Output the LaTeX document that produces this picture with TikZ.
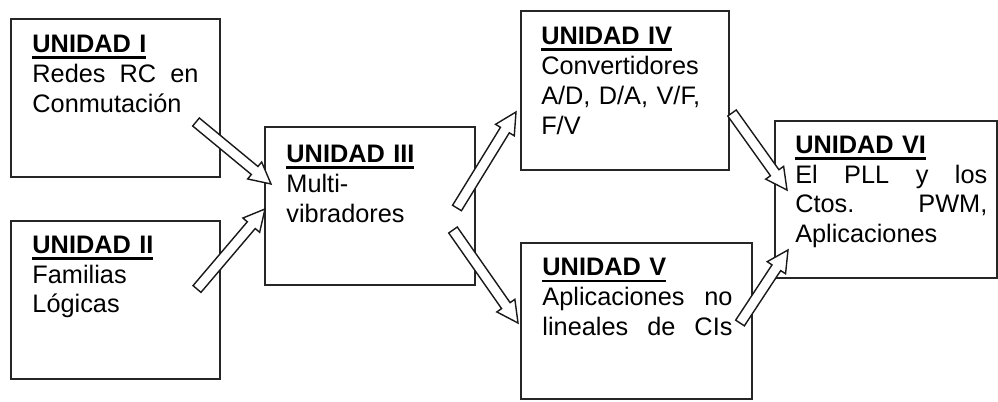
\documentclass[tikz,border=0pt]{standalone}
\usepackage{fontspec}
\setmainfont{Liberation Sans}
\usepackage{tikz}
\usetikzlibrary{positioning,calc}

\newsavebox{\titbox}
\newcommand{\unidad}[1]{\sbox{\titbox}{\textbf{#1}}\rlap{\rule[-4.6pt]{\wd\titbox}{1.9pt}}\usebox{\titbox}}
% justified line: words split by \hfill
\newcommand{\jl}[2]{\makebox[#1][l]{#2}}
% hollow block arrow: shaft, head width, head length
\newcommand{\asw}{0.13cm}
\newcommand{\ahw}{0.275cm}
\newcommand{\ahl}{0.53cm}
\newcommand{\flecha}[2]{%
  \coordinate (fh) at ($(#2)!\ahl!(#1)$);
  \draw[hollow] ($(#1)!\asw!90:(#2)$) -- ($(fh)!\asw!-90:(#1)$)
    -- ($(fh)!\ahw!-90:(#1)$) -- (#2) -- ($(fh)!\ahw!90:(#1)$)
    -- ($(fh)!\asw!90:(#1)$) -- ($(#1)!\asw!-90:(#2)$) -- cycle;}

\tikzset{
  unitbox/.style={draw=black!85, line width=1.1pt, inner sep=0pt, outer sep=0pt},
  unittext/.style={inner sep=0pt, align=left, font=\fontsize{18}{21.3}\selectfont},
  hollow/.style={draw=black!90, fill=white, line width=1pt, line join=miter}
}

\begin{document}
\begin{tikzpicture}[x=0.025cm, y=-0.025cm]
    \useasboundingbox (0,0) rectangle (998,401);

    % Boxes
    \node[unitbox, minimum width=5.225cm, minimum height=3.95cm] (u1) at (115.5,98) {};
    \node[unitbox, minimum width=5.225cm, minimum height=3.95cm] (u2) at (115.5,300) {};
    \node[unitbox, minimum width=5.25cm, minimum height=3.95cm] (u3) at (370,206) {};
    \node[unitbox, minimum width=5.2cm, minimum height=3.975cm] (u4) at (625,90.5) {};
    \node[unitbox, minimum width=5.775cm, minimum height=3.9cm] (u5) at (636.5,321) {};
    \node[unitbox, minimum width=5.55cm, minimum height=3.925cm] (u6) at (886,199.5) {};

    % Texts
    \node[unittext, text width=4.2cm, below right=0.4cm and 0.53cm of u1.north west] (t1)
        {\unidad{UNIDAD I}\\ \jl{4.15cm}{Redes\hfill RC\hfill en}\\ Conmutación};
    \node[unittext, text width=4.2cm, below right=0.36cm and 0.53cm of u2.north west] (t2)
        {\unidad{UNIDAD II}\\ Familias\\ Lógicas};
    \node[unittext, text width=4.2cm, below right=0.44cm and 0.53cm of u3.north west] (t3)
        {\unidad{UNIDAD III}\\ Multi-\\ vibradores};
    \node[unittext, text width=4.2cm, below right=0.4cm and 0.5cm of u4.north west] (t4)
        {\unidad{UNIDAD IV}\\ Convertidores\\ A/D, D/A, V/F,\\ F/V};
    \node[unittext, text width=4.75cm, below right=0.38cm and 0.53cm of u5.north west] (t5)
        {\unidad{UNIDAD V}\\ \jl{4.75cm}{Aplicaciones\hfill no}\\ \jl{4.75cm}{lineales\hfill de\hfill CIs}};
    \node[unittext, text width=4.8cm, below right=0.36cm and 0.5cm of u6.north west] (t6)
        {\unidad{UNIDAD VI}\\ \jl{4.8cm}{El\hfill PLL\hfill y\hfill los}\\ \jl{4.8cm}{Ctos.\hfill PWM,}\\ Aplicaciones};

    % Arrow ends
    \coordinate (a1s) at (196,122);
    \coordinate (a1e) at (271,184);
    \coordinate (a2s) at (197,289);
    \coordinate (a2e) at (265,209);
    \coordinate (a3s) at (457,208);
    \coordinate (a3e) at (516,112);
    \coordinate (a4s) at (453,230);
    \coordinate (a4e) at (518,323);
    \coordinate (a5s) at (732,113);
    \coordinate (a5e) at (787,190);
    \coordinate (a6s) at (740,323);
    \coordinate (a6e) at (788,250);

    % Arrows
    \flecha{a1s}{a1e}
    \flecha{a2s}{a2e}
    \flecha{a3s}{a3e}
    \flecha{a4s}{a4e}
    \flecha{a5s}{a5e}
    \flecha{a6s}{a6e}
\end{tikzpicture}
\end{document}
